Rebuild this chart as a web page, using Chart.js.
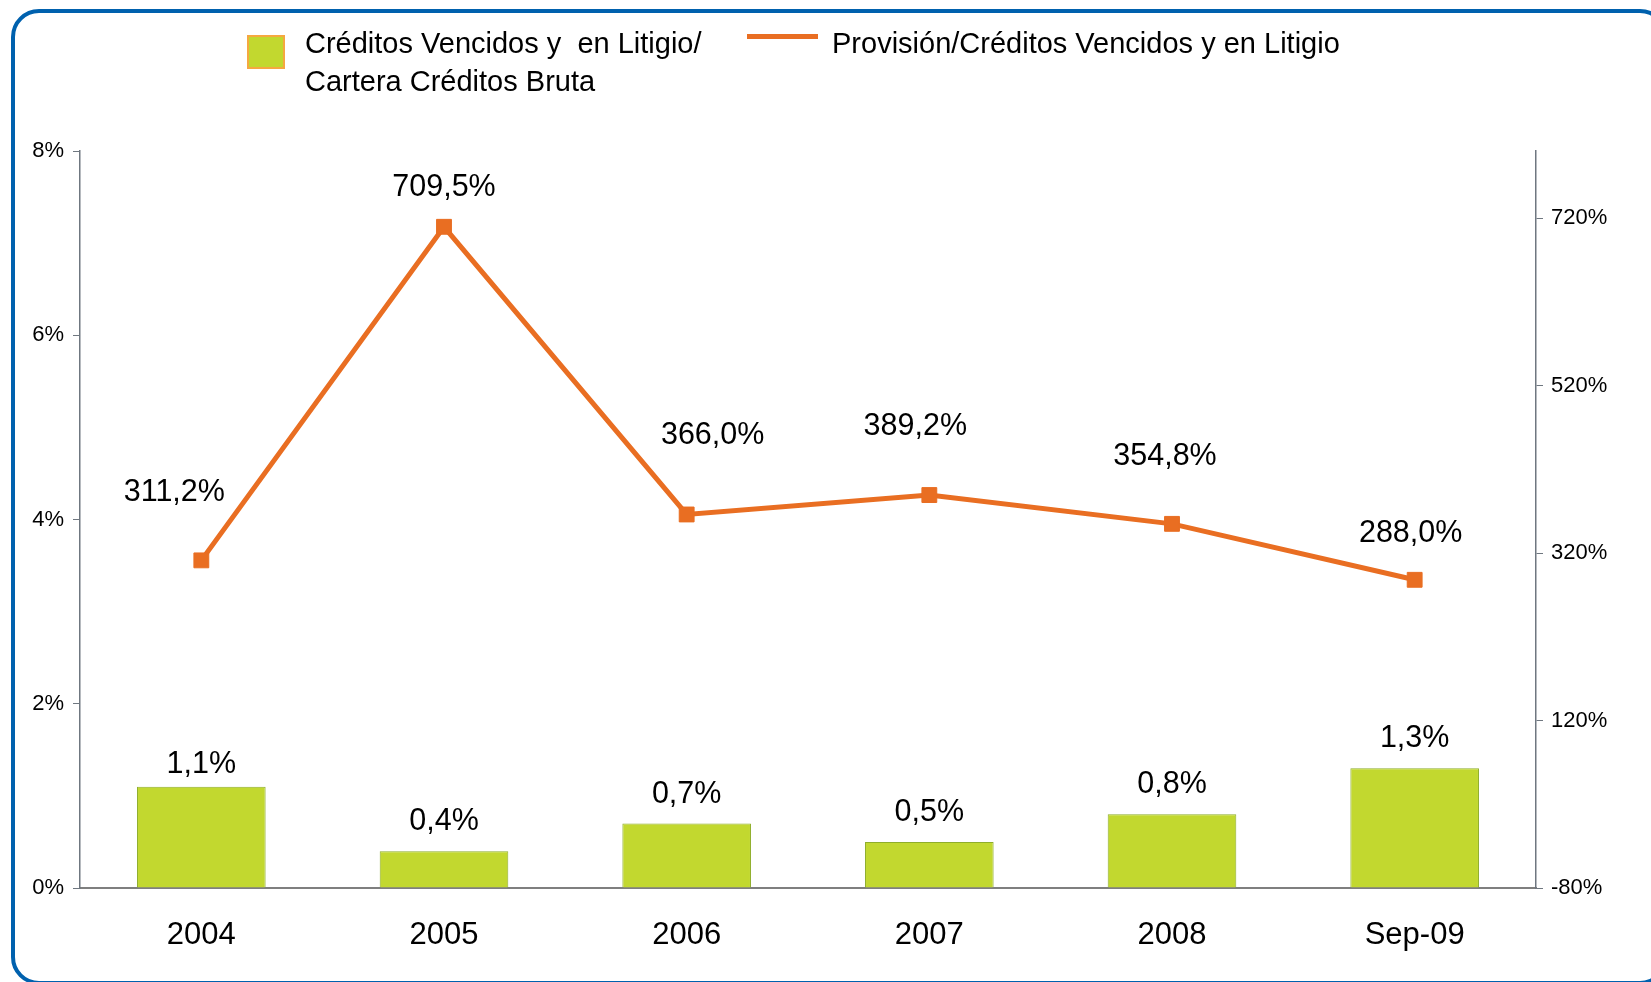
<!DOCTYPE html>
<html>
<head>
<meta charset="utf-8">
<script src="https://cdn.jsdelivr.net/npm/chart.js@4.4.0/dist/chart.umd.min.js"></script>
<style>
  html, body { margin: 0; padding: 0; background: #fff; }
  #wrap { position: relative; width: 1651px; height: 982px; overflow: hidden; }
  #frame {
    position: absolute; left: 11px; top: 9px; width: 1657px; height: 976px;
    box-sizing: border-box; border: 4.5px solid #0061ae; border-radius: 28px;
    pointer-events: none;
  }
</style>
</head>
<body>
<div id="wrap">
  <canvas id="myChart" width="1651" height="982"></canvas>
  <div id="frame"></div>
</div>
<script>
const categories = ["2004", "2005", "2006", "2007", "2008", "Sep-09"];
const ratioVencidos = [1.1, 0.4, 0.7, 0.5, 0.8, 1.3];
const ratioProvision = [311.2, 709.5, 366.0, 389.2, 354.8, 288.0];
const leftTicks = [0, 2, 4, 6, 8];
const rightTicks = [-80, 120, 320, 520, 720];

const green = "#c2d82f";
const orange = "#e96e22";
const axisGray = "#6f7780";
const font = "Liberation Sans, Arial, sans-serif";

// hand placed label offsets (dx, dy) like the original
const lineLabelOffsets = [[-27, -68], [0, -39], [26, -79], [-14, -68], [-7, -67], [-4, -46]];
const barLabelOffsets = [-22, -30, -29, -29, -30, -30];

const fmt = (v) => v.toFixed(1).replace(".", ",") + "%";

const valueLabels = {
  id: "valueLabels",
  afterDatasetsDraw(chart) {
    const { ctx } = chart;
    ctx.save();
    ctx.font = "30.5px " + font;
    ctx.fillStyle = "#000";
    ctx.textAlign = "center";
    ctx.textBaseline = "middle";
    chart.getDatasetMeta(0).data.forEach((el, i) => {
      ctx.fillText(fmt(ratioVencidos[i]), el.x, el.y + barLabelOffsets[i]);
    });
    chart.getDatasetMeta(1).data.forEach((el, i) => {
      const [dx, dy] = lineLabelOffsets[i];
      ctx.fillText(fmt(ratioProvision[i]), el.x + dx, el.y + dy);
    });
    ctx.restore();
  },
};

const legendBox = {
  id: "legendBox",
  afterDraw(chart) {
    const { ctx } = chart;
    ctx.save();
    ctx.fillStyle = green;
    ctx.fillRect(248, 36, 36, 32);
    ctx.strokeStyle = "#f5a840";
    ctx.lineWidth = 2;
    ctx.strokeRect(248, 36, 36, 32);
    ctx.fillStyle = orange;
    ctx.fillRect(747, 34, 71, 5);
    ctx.font = "29px " + font;
    ctx.fillStyle = "#000";
    ctx.textBaseline = "middle";
    ctx.fillText("Créditos Vencidos y  en Litigio/", 305, 45);
    ctx.fillText("Cartera Créditos Bruta", 305, 83);
    ctx.fillText("Provisión/Créditos Vencidos y en Litigio", 832, 45);
    ctx.restore();
  },
};

const config = {
  type: "bar",
  data: {
    labels: categories,
    datasets: [
      {
        label: "Créditos Vencidos y en Litigio/Cartera Créditos Bruta",
        data: ratioVencidos,
        backgroundColor: green,
        borderColor: "#8fae2a",
        borderWidth: 1,
        barPercentage: 0.53,
        categoryPercentage: 1,
        yAxisID: "y",
        order: 1,
      },
      {
        type: "line",
        label: "Provisión/Créditos Vencidos y en Litigio",
        data: ratioProvision,
        borderColor: orange,
        backgroundColor: orange,
        borderWidth: 5,
        pointStyle: "rect",
        pointRadius: 10.5,
        pointBorderWidth: 1,
        tension: 0,
        yAxisID: "y2",
        order: 0,
      },
    ],
  },
  options: {
    responsive: false,
    devicePixelRatio: 1,
    animation: false,
    layout: { padding: { top: 151, left: 0, right: 0, bottom: 0 } },
    plugins: { legend: { display: false }, tooltip: { enabled: false } },
    scales: {
      x: {
        grid: { display: false, drawTicks: false },
        border: { display: true, color: "#7f7f7f", width: 2 },
        ticks: { color: "#000", font: { family: font, size: 31 }, padding: 29 },
        afterFit: (s) => { s.height = 94; },
      },
      y: {
        position: "left",
        min: 0,
        max: 8,
        grid: { drawOnChartArea: false, tickLength: 7, color: axisGray },
        border: { display: true, color: axisGray, width: 1.5 },
        ticks: { color: "#000", font: { family: font, size: 22 }, padding: 9, callback: (v) => v + "%" },
        afterBuildTicks: (axis) => { axis.ticks = leftTicks.map((v) => ({ value: v })); },
        afterFit: (s) => { s.width = 80; },
      },
      y2: {
        position: "right",
        min: -80,
        max: 800,
        grid: { drawOnChartArea: false, tickLength: 7, color: axisGray },
        border: { display: true, color: axisGray, width: 1.5 },
        ticks: { color: "#000", font: { family: font, size: 22 }, padding: 8, callback: (v) => v + "%" },
        afterBuildTicks: (axis) => { axis.ticks = rightTicks.map((v) => ({ value: v })); },
        afterFit: (s) => { s.width = 115; },
      },
    },
  },
  plugins: [valueLabels, legendBox],
};

new Chart(document.getElementById("myChart"), config);
</script>
</body>
</html>
